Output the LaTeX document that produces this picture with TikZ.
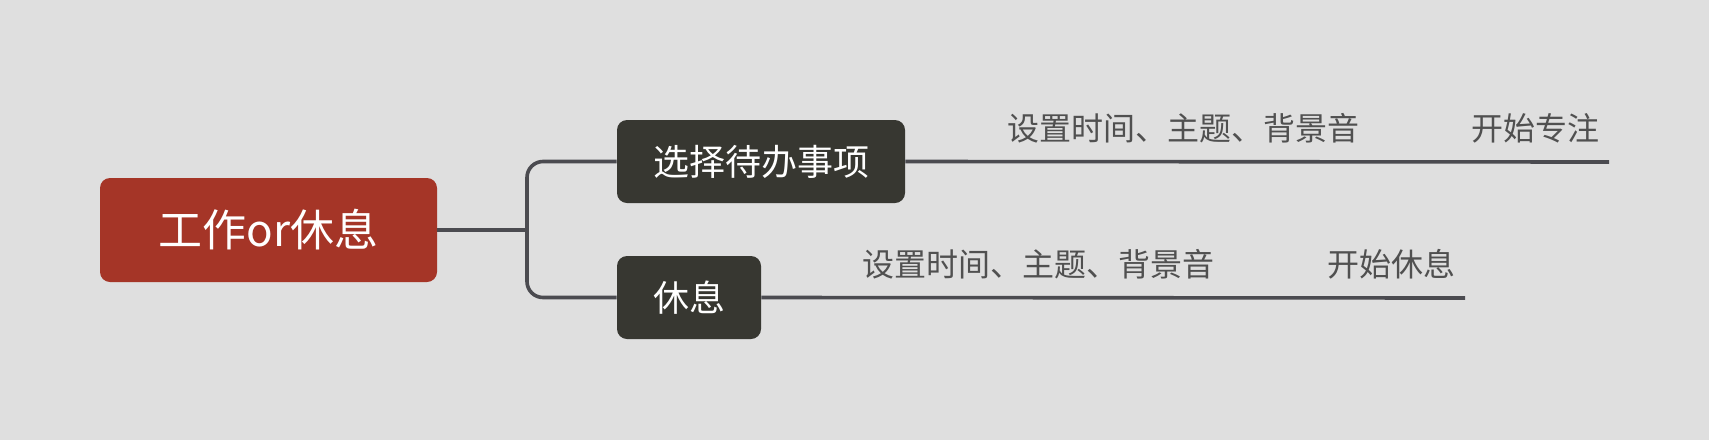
\documentclass[tikz,border=0pt]{standalone}
\usepackage{fontspec}
\setmainfont{Noto Sans CJK SC}
\definecolor{bgc}{HTML}{DFDFDF}
\definecolor{rootc}{HTML}{A53527}
\definecolor{branchc}{HTML}{373731}
\definecolor{linec}{HTML}{4B4B50}
\definecolor{leafc}{HTML}{505050}
\tikzset{
  rootbox/.style={fill=rootc, text=white, rounded corners=5pt, minimum width=168.5pt, minimum height=52pt, inner sep=0pt, font=\fontsize{22pt}{26pt}\selectfont},
  branchbox/.style={fill=branchc, text=white, rounded corners=5pt, minimum height=41.5pt, inner sep=0pt, font=\fontsize{18pt}{22pt}\selectfont},
  leaf/.style={text=leafc, inner sep=0pt, font=\fontsize{16pt}{19pt}\selectfont},
  conn/.style={draw=linec, line width=1.8pt},
}
\begin{document}
\begin{tikzpicture}[x=0.5pt, y=-0.5pt]
\fill[bgc] (0,0) rectangle (1709,440);
\useasboundingbox (0,0) rectangle (1709,440);
\node[rootbox] (root) at (268.5,230) {工作or休息};
\node[branchbox, minimum width=144pt] (b1) at (761,161.5) {选择待办事项};
\node[branchbox, minimum width=72pt] (b2) at (689,297.5) {休息};
\node[leaf] (t11) at (1183.5,128) {设置时间、主题、背景音};
\node[leaf] (t12) at (1535.5,128) {开始专注};
\node[leaf] (t21) at (1038.5,264) {设置时间、主题、背景音};
\node[leaf] (t22) at (1391,264) {开始休息};
\coordinate (jn) at (527,230);
\coordinate (end1) at (1609,162);
\coordinate (end2) at (1465,298);
\draw[conn] (root.east) -- (jn);
\draw[conn, rounded corners=8pt] (b1.west) -- (527,161.5) -- (527,297.5) -- (b2.west);
\draw[conn] (b1.east) -- (end1);
\draw[conn] (b2.east) -- (end2);
\end{tikzpicture}
\end{document}
